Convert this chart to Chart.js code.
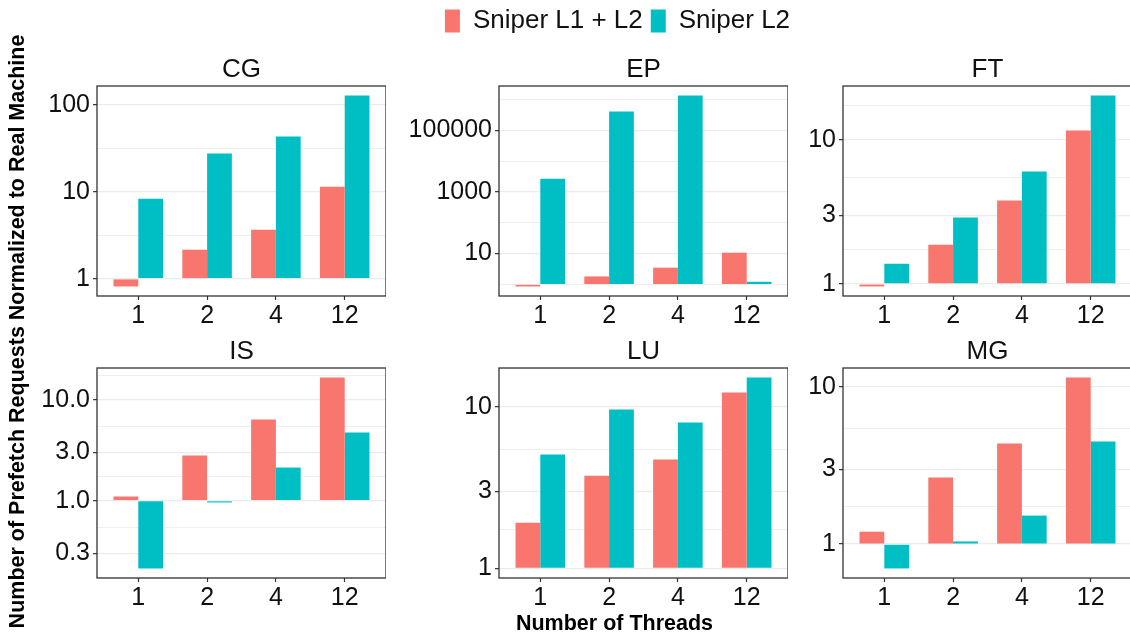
<!DOCTYPE html>
<html>
<head>
<meta charset="utf-8">
<script src="https://cdn.jsdelivr.net/npm/chart.js@4.4.1/dist/chart.umd.min.js"></script>
<style>
  html, body { margin: 0; padding: 0; background: #fff; overflow: hidden; }
  #wrap { position: relative; width: 1130px; height: 637px; overflow: hidden; }
  canvas { position: absolute; }
</style>
</head>
<body>
<div id="wrap"></div>
<script>
// ---------- Data ----------
var threads = ['1', '2', '4', '12'];
var seriesNames = ['Sniper L1 + L2', 'Sniper L2'];

var cgL1L2 = [0.815, 2.16, 3.67, 11.5];
var cgL2   = [8.37, 27.7, 43.4, 129];
var epL1L2 = [0.86, 1.82, 3.5, 10.7];
var epL2   = [2700, 405000, 1340000, 1.22];
var ftL1L2 = [0.96, 1.87, 3.79, 11.6];
var ftL2   = [1.38, 2.89, 6.02, 20.3];
var isL1L2 = [1.1, 2.8, 6.37, 16.6];
var isL2   = [0.213, 0.96, 2.13, 4.73];
var luL1L2 = [1.92, 3.75, 4.72, 12.3];
var luL2   = [5.07, 9.63, 8.0, 15.2];
var mgL1L2 = [1.2, 2.66, 4.38, 11.5];
var mgL2   = [0.70, 1.04, 1.52, 4.51];

// y breaks (log scale) and their labels, incl. neighbours just outside the range
var cgBreaks = [0.1, 1, 10, 100, 1000];
var cgLabels = ['0.1', '1', '10', '100', '1000'];
var epBreaks = [0.1, 10, 1000, 100000, 10000000];
var epLabels = ['0.1', '10', '1000', '100000', '1e+07'];
var ftBreaks = [0.3, 1, 3, 10, 30];
var ftLabels = ['0.3', '1', '3', '10', '30'];
var isBreaks = [0.1, 0.3, 1, 3, 10, 30];
var isLabels = ['0.1', '0.3', '1.0', '3.0', '10.0', '30.0'];
var luBreaks = [0.3, 1, 3, 10, 30];
var luLabels = ['0.3', '1', '3', '10', '30'];
var mgBreaks = [0.3, 1, 3, 10, 30];
var mgLabels = ['0.3', '1', '3', '10', '30'];

// ---------- Style ----------
var red = '#F8766D';
var teal = '#00BFC4';
var ink = '#111111';
var frameCol = '#333333';
var gridCol = '#EBEBEB';
var FONT = "'Liberation Sans', Arial, Helvetica, sans-serif";
Chart.defaults.font.family = FONT;
Chart.defaults.color = ink;

var Y_AXIS_W = 95, X_AXIS_H = 40, TITLE_H = 36;
var PANEL_W = 289, PANEL_H = 210;

var panels = [
  { name: 'CG', a: cgL1L2, b: cgL2, breaks: cgBreaks, labels: cgLabels, left: 97,  top: 86 },
  { name: 'EP', a: epL1L2, b: epL2, breaks: epBreaks, labels: epLabels, left: 499, top: 86 },
  { name: 'FT', a: ftL1L2, b: ftL2, breaks: ftBreaks, labels: ftLabels, left: 843, top: 86 },
  { name: 'IS', a: isL1L2, b: isL2, breaks: isBreaks, labels: isLabels, left: 97,  top: 368 },
  { name: 'LU', a: luL1L2, b: luL2, breaks: luBreaks, labels: luLabels, left: 499, top: 368 },
  { name: 'MG', a: mgL1L2, b: mgL2, breaks: mgBreaks, labels: mgLabels, left: 843, top: 368 }
];

var wrap = document.getElementById('wrap');

function makeCanvas(left, top, w, h, z) {
  var c = document.createElement('canvas');
  c.width = w; c.height = h;
  c.style.left = left + 'px'; c.style.top = top + 'px';
  c.style.width = w + 'px'; c.style.height = h + 'px';
  c.style.zIndex = z;
  wrap.appendChild(c);
  return c;
}

// ggplot-like log limits: data range incl. the bar base (1), expanded 5%
function logLimits(a, b) {
  var logs = [1].concat(a, b).map(function (v) { return Math.log10(v); });
  var lo = Math.min.apply(null, logs), hi = Math.max.apply(null, logs);
  var pad = (hi - lo) * 0.05;
  return { min: Math.pow(10, lo - pad), max: Math.pow(10, hi + pad) };
}

// major breaks + minor gridlines halfway (in log space) between breaks
function logTicks(breaks, labels, lo, hi) {
  var t = [];
  breaks.forEach(function (b, i) {
    if (i > 0) {
      var m = Math.sqrt(breaks[i - 1] * b);
      if (m >= lo && m <= hi) t.push({ value: m, minor: true, txt: '' });
    }
    if (b >= lo && b <= hi) t.push({ value: b, minor: false, txt: labels[i] });
  });
  return t;
}

function toXY(vals) {
  return vals.map(function (v, i) { return { x: i, y: v }; });
}

var panelBorder = {
  id: 'panelBorder',
  afterDatasetsDraw: function (chart) {
    var a = chart.chartArea, ctx = chart.ctx;
    ctx.save();
    ctx.strokeStyle = frameCol;
    ctx.lineWidth = 1.3;
    ctx.strokeRect(a.left, a.top, a.right - a.left, a.bottom - a.top);
    ctx.restore();
  }
};

// ---------- Panels ----------
panels.forEach(function (p) {
  var lim = logLimits(p.a, p.b);
  var cv = makeCanvas(p.left - Y_AXIS_W, p.top - TITLE_H, Y_AXIS_W + PANEL_W, TITLE_H + PANEL_H + X_AXIS_H, 2);

  new Chart(cv, {
    type: 'bar',
    data: {
      datasets: [
        { label: seriesNames[0], data: toXY(p.a), backgroundColor: red,  base: 1, borderWidth: 0,
          categoryPercentage: 0.72, barPercentage: 1 },
        { label: seriesNames[1], data: toXY(p.b), backgroundColor: teal, base: 1, borderWidth: 0,
          categoryPercentage: 0.72, barPercentage: 1 }
      ]
    },
    options: {
      responsive: false,
      animation: false,
      events: [],
      layout: { padding: 0 },
      scales: {
        x: {
          type: 'linear',
          min: -0.6,
          max: 3.6,
          offset: false,
          afterBuildTicks: function (s) {
            s.ticks = threads.map(function (t, i) { return { value: i }; });
          },
          afterFit: function (s) { s.height = X_AXIS_H; },
          ticks: {
            autoSkip: false,
            maxRotation: 0,
            padding: 1,
            color: ink,
            font: { size: 25 },
            callback: function (v) { return threads[v]; }
          },
          grid: { offset: false, drawOnChartArea: false, drawTicks: true, tickLength: 4,
                  tickColor: frameCol, tickWidth: 1.2 },
          border: { display: false }
        },
        y: {
          type: 'logarithmic',
          min: lim.min,
          max: lim.max,
          bounds: 'data',
          afterBuildTicks: function (s) {
            s.ticks = logTicks(p.breaks, p.labels, lim.min, lim.max);
          },
          afterFit: function (s) { s.width = Y_AXIS_W; },
          ticks: {
            autoSkip: false,
            padding: 3,
            color: ink,
            font: { size: 25 },
            callback: function (v, i, ticks) { return ticks[i].txt; }
          },
          grid: {
            drawOnChartArea: true,
            drawTicks: true,
            tickLength: 4,
            color: gridCol,
            lineWidth: function (c) { return c.tick && c.tick.minor ? 0.8 : 1.3; },
            tickColor: function (c) { return c.tick && c.tick.minor ? 'rgba(0,0,0,0)' : frameCol; },
            tickWidth: 1.2
          },
          border: { display: false }
        }
      },
      plugins: {
        legend: { display: false },
        tooltip: { enabled: false },
        title: {
          display: true,
          fullSize: false,
          text: p.name,
          color: ink,
          font: { size: 26, weight: 'normal' },
          padding: { top: 4, bottom: 0.8 }
        }
      }
    },
    plugins: [panelBorder]
  });
});

// ---------- Shared axis titles ----------
var frame = makeCanvas(0, 0, 1235, 637, 1);
new Chart(frame, {
  type: 'bar',
  data: { datasets: [] },
  options: {
    responsive: false,
    animation: false,
    events: [],
    layout: { padding: { top: 86, right: 103 } },
    scales: {
      x: {
        type: 'linear',
        ticks: { display: false },
        grid: { display: false },
        border: { display: false },
        afterFit: function (s) { s.height = 60; },
        title: { display: true, text: 'Number of Threads', color: '#000',
                 font: { size: 21.5, weight: 'bold' }, padding: { top: -1, bottom: 0 } }
      },
      y: {
        type: 'linear',
        ticks: { display: false },
        grid: { display: false },
        border: { display: false },
        afterFit: function (s) { s.width = 97; },
        title: { display: true, text: 'Number of Prefetch Requests Normalized to Real Machine', color: '#000',
                 font: { size: 21.5, weight: 'bold' }, padding: { top: 5, bottom: 0 } }
      }
    },
    plugins: { legend: { display: false }, tooltip: { enabled: false } }
  }
});

// ---------- Legend ----------
var leg = makeCanvas(0, 0, 1235, 46, 3);
new Chart(leg, {
  type: 'bar',
  data: {
    datasets: [
      { label: seriesNames[0], data: [], backgroundColor: red, borderWidth: 0 },
      { label: seriesNames[1], data: [], backgroundColor: teal, borderWidth: 0 }
    ]
  },
  options: {
    responsive: false,
    animation: false,
    events: [],
    scales: { x: { display: false }, y: { display: false } },
    plugins: {
      tooltip: { enabled: false },
      legend: {
        display: true,
        position: 'top',
        maxHeight: 200,
        labels: { boxWidth: 15, boxHeight: 23, padding: 8, color: ink, font: { size: 26 } }
      }
    }
  }
});
</script>
</body>
</html>
